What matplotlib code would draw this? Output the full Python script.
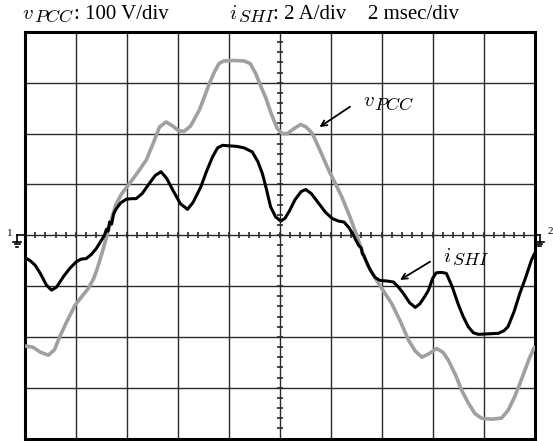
import numpy as np
import matplotlib
matplotlib.use('Agg')
import matplotlib.pyplot as plt
from matplotlib.lines import Line2D

# 读出的波形数据 (x: 格, y: 格)
v_t = [0.0, 0.15, 0.3, 0.46, 0.58, 0.68, 0.82, 0.98, 1.12, 1.24, 1.35, 1.43, 1.52, 1.61,
       1.70, 1.79, 1.9, 2.0, 2.2, 2.38, 2.52, 2.64, 2.77, 2.9, 3.02, 3.13, 3.25, 3.42,
       3.52, 3.62, 3.72, 3.81, 3.9, 4.1, 4.3, 4.42, 4.53, 4.62, 4.72, 4.83, 4.95, 5.05,
       5.15, 5.28, 5.41, 5.52, 5.64, 5.8, 5.96, 6.1, 6.22, 6.37, 6.52, 6.63, 6.74, 6.94,
       7.2, 7.36, 7.53, 7.66, 7.79, 7.93, 8.08, 8.2, 8.31, 8.45, 8.57, 8.7, 8.83, 8.96,
       9.15, 9.35, 9.48, 9.61, 9.71, 9.81, 9.9, 10.0]
v_pcc = [-2.18, -2.2, -2.3, -2.36, -2.25, -2.0, -1.7, -1.38, -1.2, -1.05, -0.85, -0.62, -0.32, 0.0,
         0.33, 0.62, 0.82, 0.95, 1.22, 1.48, 1.82, 2.13, 2.23, 2.15, 2.05, 2.05, 2.15, 2.46,
         2.72, 2.99, 3.22, 3.38, 3.43, 3.44, 3.43, 3.38, 3.18, 2.95, 2.72, 2.4, 2.1, 2.0,
         2.0, 2.1, 2.18, 2.13, 2.0, 1.65, 1.28, 1.0, 0.75, 0.38, -0.03, -0.35, -0.62, -0.95,
         -1.35, -1.68, -2.07, -2.28, -2.4, -2.33, -2.23, -2.3, -2.46, -2.75, -3.05, -3.3, -3.51, -3.6,
         -3.62, -3.6, -3.45, -3.18, -2.93, -2.66, -2.42, -2.2]

i_t = [0.0, 0.1, 0.2, 0.3, 0.42, 0.52, 0.62, 0.75, 0.88, 1.01, 1.1, 1.2, 1.3, 1.4, 1.5,
       1.56, 1.6, 1.63, 1.66, 1.7, 1.74, 1.79, 1.88, 1.99, 2.1, 2.18, 2.3, 2.44, 2.56,
       2.67, 2.78, 2.9, 3.05, 3.19, 3.3, 3.45, 3.56, 3.68, 3.78, 3.88, 4.0, 4.15, 4.3,
       4.46, 4.57, 4.66, 4.74, 4.82, 4.92, 5.02, 5.1, 5.18, 5.3, 5.42, 5.51, 5.62, 5.77,
       5.9, 6.03, 6.15, 6.26, 6.35, 6.42, 6.48, 6.55, 6.6, 6.62, 6.65, 6.7, 6.78, 6.87,
       6.97, 7.1, 7.23, 7.33, 7.43, 7.55, 7.66, 7.75, 7.85, 7.92, 8.0, 8.07, 8.17, 8.27,
       8.38, 8.5, 8.6, 8.7, 8.8, 8.9, 9.1, 9.29, 9.4, 9.48, 9.6, 9.71, 9.82, 9.94, 10.0]
i_shi = [-0.44, -0.5, -0.59, -0.75, -0.98, -1.08, -1.02, -0.82, -0.65, -0.52, -0.47, -0.46, -0.38, -0.26, -0.1,
         0.0, 0.12, 0.08, 0.26, 0.22, 0.42, 0.52, 0.64, 0.71, 0.72, 0.72, 0.82, 1.02, 1.18,
         1.25, 1.12, 0.89, 0.62, 0.51, 0.65, 0.95, 1.25, 1.54, 1.72, 1.77, 1.76, 1.75, 1.72,
         1.64, 1.45, 1.21, 0.9, 0.56, 0.36, 0.28, 0.33, 0.46, 0.7, 0.86, 0.9, 0.82, 0.62,
         0.45, 0.33, 0.28, 0.26, 0.16, 0.05, -0.07, -0.2, -0.25, -0.36, -0.4, -0.52, -0.69, -0.83,
         -0.89, -0.9, -0.92, -1.02, -1.15, -1.33, -1.42, -1.35, -1.2, -1.08, -0.85, -0.74, -0.73, -0.75,
         -1.0, -1.35, -1.6, -1.8, -1.92, -1.95, -1.94, -1.93, -1.88, -1.8, -1.5, -1.15, -0.85, -0.49, -0.36]

W, H = 553, 441
plt.rcParams['mathtext.fontset'] = 'cm'
plt.rcParams['font.family'] = ['Liberation Serif', 'DejaVu Serif']

fig = plt.figure(figsize=(W/100, H/100), dpi=100)
L, R, T, B = 25, 534.5, 32, 438.5
ax = fig.add_axes([L/W, 1-B/H, (R-L)/W, (B-T)/H])
ax.set_xlim(0, 10)
ax.set_ylim(-4, 4)
ax.set_xticks([])
ax.set_yticks([])
for s in ax.spines.values():
    s.set_linewidth(2.2)

# 网格
for k in range(1, 10):
    ax.axvline(k, color='#2a2a2a', lw=1.0, zorder=1)
for k in range(-3, 4):
    ax.axhline(k, color='#2a2a2a', lw=1.0, zorder=1)
# 中心线上的小刻度
mt = np.arange(0.2, 10, 0.2)
ax.plot(mt, np.zeros_like(mt), ls='none', marker='|', ms=4.5, mew=1.2, color='#2a2a2a', zorder=1)
mv = np.arange(-3.8, 4, 0.2)
ax.plot(np.full_like(mv, 5.0), mv, ls='none', marker='_', ms=4.5, mew=1.2, color='#2a2a2a', zorder=1)

ax.plot(v_t, v_pcc, color='#a0a0a0', lw=2.6, solid_capstyle='round', zorder=3)
ax.plot(i_t, i_shi, color='black', lw=2.2, solid_capstyle='round', zorder=4)

# 箭头
arr = {'arrowstyle': '->', 'color': 'black', 'lw': 1.3, 'shrinkA': 0, 'shrinkB': 0}
ax.annotate('', xy=(5.78, 2.13), xytext=(6.38, 2.53), arrowprops=arr)
ax.annotate('', xy=(7.36, -0.88), xytext=(7.95, -0.52), arrowprops=arr)

def ptext(x, y, s, size):
    fig.text(x/W, 1-y/H, s, fontsize=size, va='baseline', ha='left')

def sub_label(x, y, main, sub, xs, rest=None, xr=None):
    # 主符号 + 下标, 按参考图的像素位置摆放
    ptext(x, y, '$' + main + '$', 15)
    ptext(xs, y + 3.5, '$' + sub + '$', 13)
    if rest:
        ptext(xr, y, rest, 15)

# 顶部说明文字
sub_label(22.5, 19, 'v', 'PCC', 34, ': 100 V/div', 74.5)
sub_label(229, 19, 'i', 'SHI', 237.5, ': 2 A/div', 273)
ptext(368, 19, '2 msec/div', 15)

# 曲线标签
sub_label(363, 106.5, 'v', 'PCC', 374.5)
sub_label(443, 261.5, 'i', 'SHI', 451.5)

# 通道接地标记
def px_line(xs, ys, lw=1.2):
    fig.add_artist(Line2D([x/W for x in xs], [1-y/H for y in ys], color='black', lw=lw))

def ground(xc, y0):
    px_line([xc, xc], [y0 - 7, y0])
    px_line([xc - 4, xc + 4], [y0, y0])
    px_line([xc - 2.5, xc + 2.5], [y0 + 2.3, y0 + 2.3])
    px_line([xc - 1.2, xc + 1.2], [y0 + 4.6, y0 + 4.6])

px_line([L, 17], [235, 235])
ground(17, 242)
ptext(7, 236, '1', 8)
px_line([R, 539.5], [234.5, 234.5])
ground(539.5, 241.5)
ptext(548, 234, '2', 8)

fig.savefig('out.png', dpi=100)
